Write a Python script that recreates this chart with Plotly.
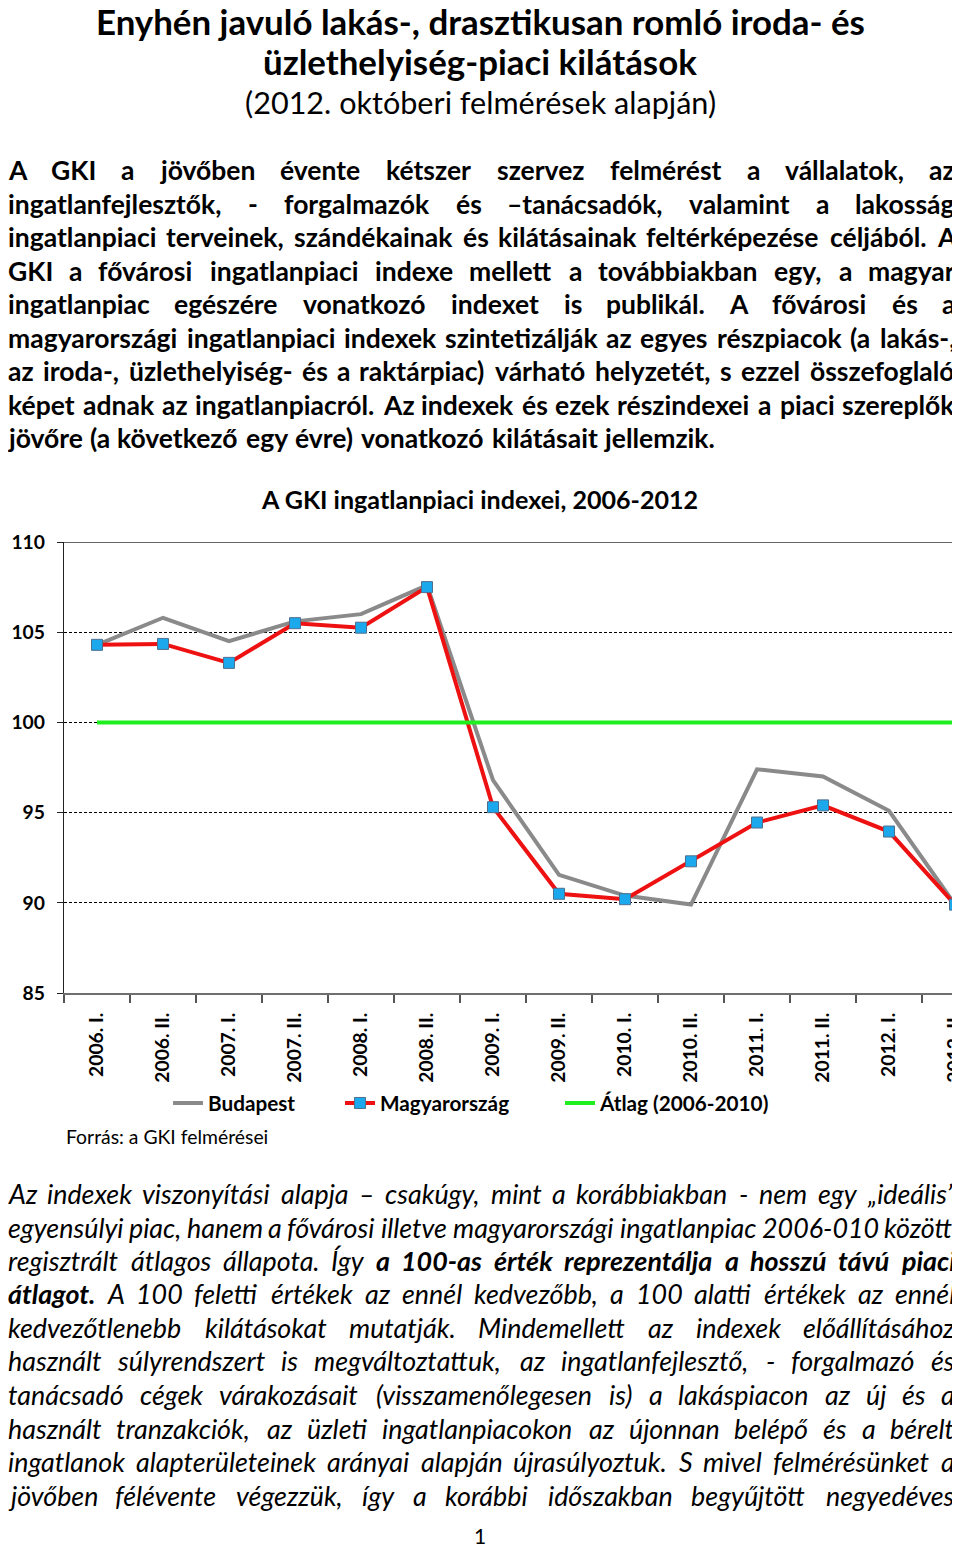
import os
import struct
import plotly.graph_objects as go

# ---------------------------------------------------------------- data
periods = ["2006. I.", "2006. II.", "2007. I.", "2007. II.", "2008. I.", "2008. II.",
           "2009. I.", "2009. II.", "2010. I.", "2010. II.", "2011. I.", "2011. II.",
           "2012. I.", "2012. II."]
budapest = [104.3, 105.8, 104.5, 105.6, 106.0, 107.6, 96.8, 91.55, 90.4, 89.9,
            97.4, 97.0, 95.1, 89.9]
magyarorszag = [104.3, 104.35, 103.3, 105.5, 105.25, 107.5, 95.3, 90.5, 90.2, 92.3,
                94.45, 95.4, 93.95, 89.9]
atlag = [100, 100, 100, 100, 100, 100, 100, 100, 100, 100, 100, 100, 100, 100]
series_names = ["Budapest", "Magyarország", "Átlag (2006-2010)"]
y_ticks = [85, 90, 95, 100, 105, 110]

title_lines = ["Enyhén javuló lakás-, drasztikusan romló iroda- és",
               "üzlethelyiség-piaci kilátások"]
subtitle = "(2012. októberi felmérések alapján)"
chart_title = "A GKI ingatlanpiaci indexei, 2006-2012"
source_note = "Forrás: a GKI felmérései"
page_number = "1"

para1_lines = [
    "A GKI a jövőben évente kétszer szervez felmérést a vállalatok, az",
    "ingatlanfejlesztők, - forgalmazók és –tanácsadók, valamint a lakosság",
    "ingatlanpiaci terveinek, szándékainak és kilátásainak feltérképezése céljából. A",
    "GKI a fővárosi ingatlanpiaci indexe mellett a továbbiakban egy, a magyar",
    "ingatlanpiac egészére vonatkozó indexet is publikál. A fővárosi és a",
    "magyarországi ingatlanpiaci indexek szintetizálják az egyes részpiacok (a lakás-,",
    "az iroda-, üzlethelyiség- és a raktárpiac) várható helyzetét, s ezzel összefoglaló",
    "képet adnak az ingatlanpiacról. Az indexek és ezek részindexei a piaci szereplők",
    "jövőre (a következő egy évre) vonatkozó kilátásait jellemzik.",
]
para2_lines = [
    [("Az indexek viszonyítási alapja – csakúgy, mint a korábbiakban - nem egy „ideális”", "i")],
    [("egyensúlyi piac, hanem a fővárosi illetve magyarországi ingatlanpiac 2006-010 között", "i")],
    [("regisztrált átlagos állapota. Így", "i"),
     ("a 100-as érték reprezentálja a hosszú távú piaci", "bi")],
    [("átlagot.", "bi"),
     ("A 100 feletti értékek az ennél kedvezőbb, a 100 alatti értékek az ennél", "i")],
    [("kedvezőtlenebb kilátásokat mutatják. Mindemellett az indexek előállításához", "i")],
    [("használt súlyrendszert is megváltoztattuk, az ingatlanfejlesztő, - forgalmazó és", "i")],
    [("tanácsadó cégek várakozásait (visszamenőlegesen is) a lakáspiacon az új és a", "i")],
    [("használt tranzakciók, az üzleti ingatlanpiacokon az újonnan belépő és a bérelt", "i")],
    [("ingatlanok alapterületeinek arányai alapján újrasúlyoztuk. S mivel felmérésünket a", "i")],
    [("jövőben félévente végezzük, így a korábbi időszakban begyűjtött negyedéves", "i")],
]

# ---------------------------------------------------------------- page geometry
# the page body has an 8px margin, so the figure starts at page pixel (8, 8)
OFF = 8
W, H = 960 - OFF, 1549 - OFF
PLOT_L, PLOT_R, PLOT_T, PLOT_B = 64, 955, 542, 993      # plot area in page pixels
ML = PLOT_L - OFF
MR = W - (PLOT_R - OFF)
MT = PLOT_T - OFF
MB = H - (PLOT_B - OFF)
PW, PH = W - ML - MR, H - MT - MB


def xp(px):
    return (px - OFF - ML) / PW


def yp(py):
    return (H - MB - (py - OFF)) / PH


GRAY, RED, BLUE, GREEN = "#8a8a8a", "#ee1111", "#1ba8ec", "#1fee1f"

# ---------------------------------------------------------------- font metrics
FONT_DIRS = ["/usr/share/fonts", "/usr/local/share/fonts",
             os.path.expanduser("~/.fonts"), os.path.expanduser("~/.local/share/fonts")]


def index_fonts():
    idx = {}
    for d in FONT_DIRS:
        if os.path.isdir(d):
            for root, _dirs, files in os.walk(d):
                for f in files:
                    idx.setdefault(f.lower(), os.path.join(root, f))
    return idx


class TTMetrics:
    def __init__(self, path):
        d = open(path, "rb").read()
        self.d = d
        base = struct.unpack(">I", d[12:16])[0] if d[:4] == b"ttcf" else 0
        n = struct.unpack(">H", d[base + 4:base + 6])[0]
        tabs = {}
        for i in range(n):
            r = base + 12 + 16 * i
            tabs[d[r:r + 4]] = struct.unpack(">I", d[r + 8:r + 12])[0]
        head, hhea, hmtx, cmap = tabs[b"head"], tabs[b"hhea"], tabs[b"hmtx"], tabs[b"cmap"]
        self.upem = struct.unpack(">H", d[head + 18:head + 20])[0]
        nhm = struct.unpack(">H", d[hhea + 34:hhea + 36])[0]
        self.adv = struct.unpack(">%dH" % (2 * nhm), d[hmtx:hmtx + 4 * nhm])[0::2]
        nsub = struct.unpack(">H", d[cmap + 2:cmap + 4])[0]
        sub = None
        for i in range(nsub):
            pid, eid, off = struct.unpack(">HHI", d[cmap + 4 + 8 * i:cmap + 12 + 8 * i])
            fmt = struct.unpack(">H", d[cmap + off:cmap + off + 2])[0]
            if fmt == 4 and ((pid == 3 and eid == 1) or pid == 0):
                sub = cmap + off
                break
        if sub is None:
            raise ValueError("no cmap")
        segx2 = struct.unpack(">H", d[sub + 6:sub + 8])[0]
        seg = segx2 // 2
        self.ends = struct.unpack(">%dH" % seg, d[sub + 14:sub + 14 + segx2])
        self.starts = struct.unpack(">%dH" % seg, d[sub + 16 + segx2:sub + 16 + 2 * segx2])
        self.deltas = struct.unpack(">%dh" % seg, d[sub + 16 + 2 * segx2:sub + 16 + 3 * segx2])
        self.ro_pos = sub + 16 + 3 * segx2
        self.ros = struct.unpack(">%dH" % seg, d[self.ro_pos:self.ro_pos + segx2])
        self.cache = {}

    def gid(self, ch):
        c = ord(ch)
        for i, e in enumerate(self.ends):
            if e >= c:
                if self.starts[i] > c:
                    return 0
                if self.ros[i] == 0:
                    return (c + self.deltas[i]) & 0xFFFF
                addr = self.ro_pos + 2 * i + self.ros[i] + 2 * (c - self.starts[i])
                g = struct.unpack(">H", self.d[addr:addr + 2])[0]
                return (g + self.deltas[i]) & 0xFFFF if g else 0
        return 0

    def w(self, text):
        tot = 0.0
        for ch in text:
            if ch not in self.cache:
                g = self.gid(ch)
                a = self.adv[g] if g < len(self.adv) else self.adv[-1]
                self.cache[ch] = a / self.upem
            tot += self.cache[ch]
        return tot


class Approx:
    def __init__(self, f):
        self.f = f

    def w(self, text):
        return sum(0.26 if ch == " " else self.f for ch in text)


CANDIDATES = [
    ("Lato", ["lato-regular.ttf"], ["lato-bold.ttf"], ["lato-italic.ttf"], ["lato-bolditalic.ttf"]),
    ("Roboto", ["roboto-regular.ttf"], ["roboto-bold.ttf"], ["roboto-italic.ttf"], ["roboto-bolditalic.ttf"]),
    ("Open Sans", ["opensans-regular.ttf"], ["opensans-bold.ttf"], ["opensans-italic.ttf"], ["opensans-bolditalic.ttf"]),
    ("Noto Sans", ["notosans-regular.ttf"], ["notosans-bold.ttf"], ["notosans-italic.ttf"], ["notosans-bolditalic.ttf"]),
    ("Liberation Sans", ["liberationsans-regular.ttf"], ["liberationsans-bold.ttf"],
     ["liberationsans-italic.ttf"], ["liberationsans-bolditalic.ttf"]),
    ("DejaVu Sans", ["dejavusans.ttf"], ["dejavusans-bold.ttf"], ["dejavusans-oblique.ttf"],
     ["dejavusans-boldoblique.ttf"]),
]


def pick_font():
    idx = index_fonts()
    for fam, r, b, i, bi in CANDIDATES:
        def load(names):
            for nm in names:
                if nm in idx:
                    try:
                        return TTMetrics(idx[nm])
                    except Exception:
                        return None
            return None
        mr, mb = load(r), load(b)
        if mr is None or mb is None:
            continue
        mi, mbi = load(i) or mr, load(bi) or mb
        return fam, {"r": mr, "b": mb, "i": mi, "bi": mbi}
    return "Lato", {"r": Approx(0.5), "b": Approx(0.54), "i": Approx(0.48), "bi": Approx(0.52)}


FAM, M = pick_font()


def font(style, size):
    return dict(family=FAM, size=size, color="black",
                weight="bold" if "b" in style else "normal",
                style="italic" if "i" in style else "normal")


annotations = []


def add_text(text, x, y, style, size, anchor="left"):
    annotations.append(dict(text=text, x=xp(x), y=yp(y), xref="paper", yref="paper",
                            xanchor=anchor, yanchor="middle", showarrow=False,
                            borderpad=0, borderwidth=0, font=font(style, size)))


def size_for(text, style, width):
    return width / M[style].w(text)


def tokens_of(segments):
    toks = []
    for txt, st in segments:
        toks += [(w, st) for w in txt.split()]
    return toks


def natural_em(segments):
    toks = tokens_of(segments)
    return sum(M[st].w(w) for w, st in toks) + M[toks[0][1]].w(" ") * (len(toks) - 1)


TEXT_L, TEXT_R = 8, 955


def place_line(segments, y, size, justify, left=TEXT_L, right=TEXT_R):
    toks = tokens_of(segments)
    widths = [M[st].w(w) * size for w, st in toks]
    space = M[toks[0][1]].w(" ") * size
    if justify and len(toks) > 1:
        gap = max((right - left - sum(widths)) / (len(toks) - 1), 0.12 * size)
    else:
        gap = space
    x = left
    for (word, st), wd in zip(toks, widths):
        add_text(word, x, y, st, size)
        x += wd + gap


# ---------------------------------------------------------------- headings
t_size = (size_for(title_lines[0], "b", 770) + size_for(title_lines[1], "b", 435)) / 2
add_text(title_lines[0], 480, 21, "b", t_size, "center")
add_text(title_lines[1], 480, 62, "b", t_size, "center")
add_text(subtitle, 480, 102, "r", size_for(subtitle, "r", 473), "center")

# ---------------------------------------------------------------- paragraph 1
p1 = [[(ln, "b")] for ln in para1_lines]
s1 = 706 / natural_em(p1[-1])
s1 = min(s1, (TEXT_R - TEXT_L) / max(natural_em(l) for l in p1[:-1]))
p1_y = [170, 203.5, 237, 270.5, 304, 338, 371, 405, 438]
for i, (ln, y) in enumerate(zip(p1, p1_y)):
    place_line(ln, y, s1, justify=(i < len(p1) - 1))

# ---------------------------------------------------------------- paragraph 2
s2 = 943 / natural_em(para2_lines[8])
s2 = min(s2, 957 / max(natural_em(l) for l in para2_lines))
p2_y = [1193, 1227, 1260, 1293.5, 1327, 1360.5, 1394, 1428, 1461, 1495]
for ln, y in zip(para2_lines, p2_y):
    place_line(ln, y, s2, justify=True)

# ---------------------------------------------------------------- chart texts
add_text(chart_title, 479, 499, "b", size_for(chart_title, "b", 438), "center")
add_text(source_note, 66, 1136, "r", size_for(source_note, "r", 204), "left")
add_text(page_number, 480, 1535, "r", 21, "center")

# ---------------------------------------------------------------- chart
fig = go.Figure()
fig.add_trace(go.Scatter(x=periods, y=budapest, name=series_names[0], mode="lines",
                         line=dict(color=GRAY, width=4), legend="legend"))
fig.add_trace(go.Scatter(x=periods, y=magyarorszag, name=series_names[1], mode="lines+markers",
                         line=dict(color=RED, width=4),
                         marker=dict(symbol="square", size=11, color=BLUE,
                                     line=dict(color="#4f6f8f", width=1)),
                         legend="legend2"))
fig.add_trace(go.Scatter(x=periods, y=atlag, name=series_names[2], mode="lines",
                         line=dict(color=GREEN, width=4), legend="legend3"))

leg_size = size_for(series_names[1], "b", 130)


def legend_box(px):
    return dict(x=xp(px), y=yp(1103), xanchor="left", yanchor="middle", orientation="h",
                bgcolor="rgba(0,0,0,0)", borderwidth=0, itemwidth=30,
                font=dict(family=FAM, size=leg_size, color="black", weight="bold"))


x_size = size_for("2006. II.", "b", 70)
y_size = size_for("110", "b", 28) * 1.2

fig.update_layout(
    width=W, height=H,
    margin=dict(l=ML, r=MR, t=MT, b=MB, autoexpand=False),
    paper_bgcolor="white", plot_bgcolor="white",
    showlegend=True,
    legend=legend_box(168), legend2=legend_box(340), legend3=legend_box(560),
    xaxis=dict(type="category", categoryorder="array", categoryarray=periods,
               range=[-0.5, 13], showline=True, linecolor="#6e6e6e", linewidth=2,
               ticks="outside", tickson="boundaries", ticklen=8, tickcolor="#555", tickwidth=1.5,
               tickangle=-90, ticklabelstandoff=10,
               tickfont=dict(family=FAM, size=x_size, color="black", weight="bold"),
               showgrid=False, zeroline=False, fixedrange=True),
    yaxis=dict(range=[85, 110], tickmode="array", tickvals=y_ticks, showline=True,
               linecolor="#222", linewidth=1.3, ticks="outside", ticklen=6, tickcolor="#222",
               ticklabelstandoff=8,
               tickfont=dict(family=FAM, size=y_size, color="black", weight="bold"),
               showgrid=True, gridcolor="black", gridwidth=1, griddash="3px,2px",
               zeroline=False, fixedrange=True),
    shapes=[dict(type="line", xref="paper", yref="y", x0=0, x1=1, y0=110, y1=110,
                 line=dict(color="#333", width=1.5))],
    annotations=annotations,
)

fig.write_html("out.html")
